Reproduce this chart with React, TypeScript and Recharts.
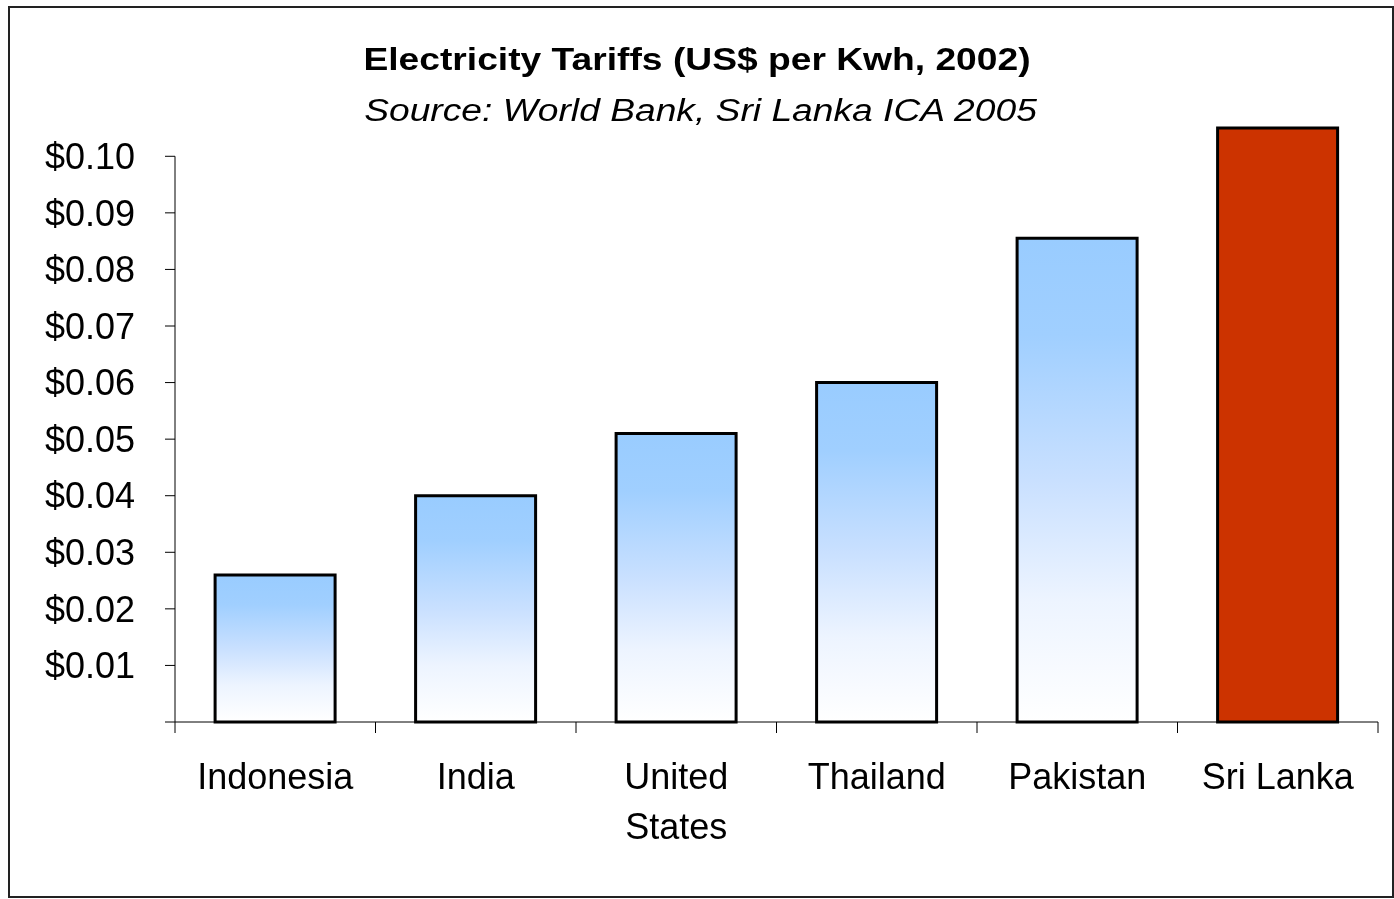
import { Bar, BarChart, Cell, ReferenceLine, XAxis, YAxis } from "recharts"

const countries = ["Indonesia", "India", "United States", "Thailand", "Pakistan", "Sri Lanka"]
const tariffs = [0.026, 0.04, 0.051, 0.06, 0.0855, 0.105]
const yTicks = [0, 0.01, 0.02, 0.03, 0.04, 0.05, 0.06, 0.07, 0.08, 0.09, 0.1]
const highlight = "Sri Lanka"

const chartData = countries.map((name, i) => ({ name, tariff: tariffs[i] }))

const font = "Arial, 'Liberation Sans', sans-serif"

// label under the bar plus the little tick marks between categories
function CountryTick({ x, y, payload, index, visibleTicksCount }: any) {
  const half = payload.offset ?? 0
  const label: string = payload.value
  const lines = label.length > 10 ? label.split(" ") : [label]
  return (
    <g>
      <line x1={x - half} y1={y} x2={x - half} y2={y + 11} stroke="#000" />
      {index === visibleTicksCount - 1 && (
        <line x1={x + half} y1={y} x2={x + half} y2={y + 11} stroke="#000" />
      )}
      <text x={x} y={y + 67} textAnchor="middle" fontSize={36} fontFamily={font} fill="#000">
        {lines.map((l, i) => (
          <tspan key={l} x={x} dy={i === 0 ? 0 : 50}>
            {l}
          </tspan>
        ))}
      </text>
    </g>
  )
}

export default function App() {
  return (
    <div
      style={{
        position: "fixed",
        top: 6,
        left: 8,
        width: 1386,
        height: 892,
        border: "2px solid #222",
        boxSizing: "border-box",
        background: "#fff",
        fontFamily: font,
      }}
    >
      <div
        style={{
          position: "absolute",
          top: 36,
          left: 0,
          width: 1374,
          textAlign: "center",
          fontSize: 31,
          lineHeight: "31px",
          fontWeight: "bold",
          transform: "scaleX(1.2)",
          color: "#000",
          whiteSpace: "nowrap",
        }}
      >
        Electricity Tariffs (US$ per Kwh, 2002)
      </div>
      <div
        style={{
          position: "absolute",
          top: 87,
          left: 0,
          width: 1381,
          textAlign: "center",
          fontSize: 31,
          lineHeight: "31px",
          fontStyle: "italic",
          transform: "scaleX(1.2)",
          color: "#000",
          whiteSpace: "nowrap",
        }}
      >
        Source: World Bank, Sri Lanka ICA 2005
      </div>
      <BarChart
        width={1382}
        height={888}
        data={chartData}
        margin={{ top: 120, right: 14, left: 0, bottom: 54 }}
        barCategoryGap="20%"
      >
        <defs>
          <linearGradient id="blueFade" x1="0" y1="0" x2="0" y2="1">
            <stop offset="0%" stopColor="#99CCFF" />
            <stop offset="20%" stopColor="#A0CFFF" />
            <stop offset="50%" stopColor="#C9E0FF" />
            <stop offset="75%" stopColor="#EDF4FF" />
            <stop offset="100%" stopColor="#FFFFFF" />
          </linearGradient>
        </defs>
        <XAxis
          dataKey="name"
          height={120}
          interval={0}
          axisLine={{ stroke: "#000" }}
          tickLine={false}
          tickSize={0}
          tickMargin={0}
          tick={<CountryTick />}
        />
        <XAxis xAxisId="edge" type="number" domain={[0, 1]} hide />
        <YAxis
          width={165}
          domain={[0, 0.105]}
          ticks={yTicks}
          interval={0}
          axisLine={false}
          tickLine={{ stroke: "#000" }}
          tickSize={10}
          tickMargin={30}
          tickFormatter={(v: number) => (v === 0 ? "" : `$${v.toFixed(2)}`)}
          tick={{ fontSize: 36, fontFamily: font, fill: "#000" }}
        />
        <ReferenceLine
          xAxisId="edge"
          segment={[
            { x: 0, y: 0 },
            { x: 0, y: 0.1 },
          ]}
          stroke="#000"
          strokeWidth={1}
        />
        <Bar dataKey="tariff" stroke="#000" strokeWidth={3} isAnimationActive={false}>
          {chartData.map((d) => (
            <Cell key={d.name} fill={d.name === highlight ? "#CC3300" : "url(#blueFade)"} />
          ))}
        </Bar>
      </BarChart>
    </div>
  )
}
